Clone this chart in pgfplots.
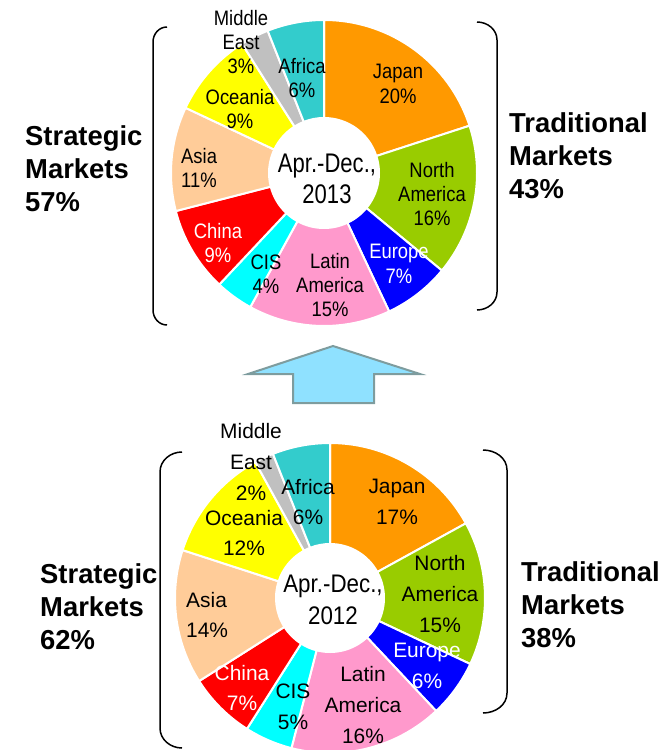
\documentclass[border=0pt]{standalone}
\usepackage{pgfplots}
\usepackage{pgfplotstable}
\pgfplotsset{compat=1.18}
\usepackage{fontspec}
\setmainfont{Liberation Sans}
\newfontfamily\topfont[FakeStretch=0.88]{Liberation Sans}
\newfontfamily\topcenter[FakeStretch=0.82]{Liberation Sans}
\newfontfamily\botcenter[FakeStretch=0.88]{Liberation Sans}

\definecolor{cJapan}{HTML}{FF9900}
\definecolor{cNA}{HTML}{99CC00}
\definecolor{cEurope}{HTML}{0000FF}
\definecolor{cLatAm}{HTML}{FF99CC}
\definecolor{cCIS}{HTML}{00FFFF}
\definecolor{cChina}{HTML}{FF0000}
\definecolor{cAsia}{HTML}{FFCC99}
\definecolor{cOceania}{HTML}{FFFF00}
\definecolor{cME}{HTML}{C0C0C0}
\definecolor{cAfrica}{HTML}{33CCCC}
\definecolor{arrowfill}{HTML}{8FE1FF}
\definecolor{arrowline}{HTML}{7E9C9E}

% shares in percent, clockwise from 12 o'clock
\pgfplotstableread{
region share col
Japan 20 cJapan
NorthAmerica 16 cNA
Europe 7 cEurope
LatinAmerica 15 cLatAm
CIS 4 cCIS
China 9 cChina
Asia 11 cAsia
Oceania 9 cOceania
MiddleEast 3 cME
Africa 6 cAfrica
}\dataThirteen

\pgfplotstableread{
region share col
Japan 17 cJapan
NorthAmerica 15 cNA
Europe 6 cEurope
LatinAmerica 16 cLatAm
CIS 5 cCIS
China 7 cChina
Asia 14 cAsia
Oceania 12 cOceania
MiddleEast 2 cME
Africa 6 cAfrica
}\dataTwelve

% #1 table, #2 cx, #3 cy, #4 outer radius, #5 inner radius
\newcommand\donut[5]{%
  \pgfplotsextra{%
    \def\angA{90}%
    \pgfplotstablegetrowsof{#1}%
    \pgfmathtruncatemacro\lastrow{\pgfplotsretval-1}%
    \pgfplotsforeachungrouped \i in {0,...,\lastrow}{%
      \pgfplotstablegetelem{\i}{share}\of{#1}\let\val\pgfplotsretval
      \pgfplotstablegetelem{\i}{col}\of{#1}\let\wcol\pgfplotsretval
      \pgfmathsetmacro\angB{\angA-3.6*\val}%
      \filldraw[fill=\wcol, draw=white, line width=2bp, line join=miter]
        ([shift={(\angA:#4bp)}]axis cs:#2,#3)
        arc[start angle=\angA, end angle=\angB, radius=#4bp]
        -- ([shift={(\angB:#5bp)}]axis cs:#2,#3)
        arc[start angle=\angB, end angle=\angA, radius=#5bp] -- cycle;
      \let\angA\angB
    }%
  }%
}

\begin{document}
\begin{tikzpicture}
\begin{axis}[
x=1bp, y=1bp,
xmin=0, xmax=669, ymin=0, ymax=750,
y dir=reverse,
hide axis,
clip=false
]
\coordinate (bbA) at (axis cs:0,750);
\coordinate (bbB) at (axis cs:669,0);

\donut{\dataThirteen}{324}{173}{153}{55}
\donut{\dataTwelve}{330}{598}{155}{54}

% brackets
\draw[line width=1.5bp] (axis cs:167,27) to[out=180,in=90] (axis cs:153,42)
  -- (axis cs:153,310) to[out=-90,in=180] (axis cs:167,325);
\draw[line width=1.5bp] (axis cs:477,22) to[out=0,in=90] (axis cs:497,40)
  -- (axis cs:497,292) to[out=-90,in=0] (axis cs:477,310);
\draw[line width=1.5bp] (axis cs:182,452) to[out=180,in=90] (axis cs:160,472)
  -- (axis cs:160,728) to[out=-90,in=180] (axis cs:182,748);
\draw[line width=1.5bp] (axis cs:483,450) to[out=0,in=90] (axis cs:507,470)
  -- (axis cs:507,693) to[out=-90,in=0] (axis cs:483,713);

% arrow
\filldraw[fill=arrowfill, draw=arrowline, line width=2bp]
  (axis cs:333,346) -- (axis cs:420,374) -- (axis cs:374,374) -- (axis cs:374,403)
  -- (axis cs:293,403) -- (axis cs:293,374) -- (axis cs:248,374) -- cycle;

% outer labels
\tikzset{big/.style={font=\bfseries\fontsize{27.5}{33}\selectfont, align=left, inner sep=0pt, anchor=west}}
\node[big] at (axis cs:25,169) {Strategic\\Markets\\57\%};
\node[big] at (axis cs:509,156) {Traditional\\Markets\\43\%};
\node[big] at (axis cs:40,607) {Strategic\\Markets\\62\%};
\node[big] at (axis cs:521,605) {Traditional\\Markets\\38\%};

% top donut labels
\tikzset{tl/.style={font=\topfont\fontsize{21}{24.5}\selectfont, align=center, inner sep=0pt}}
\node[tl] at (axis cs:398,84) {Japan\\20\%};
\node[tl] at (axis cs:432,194) {North\\America\\16\%};
\node[tl, white] at (axis cs:399,264) {Europe\\7\%};
\node[tl] at (axis cs:330,285) {Latin\\America\\15\%};
\node[tl] at (axis cs:266,274) {CIS\\4\%};
\node[tl, white] at (axis cs:218,243) {China\\9\%};
\node[tl, align=left, anchor=west] at (axis cs:181,168) {Asia\\11\%};
\node[tl] at (axis cs:240,109) {Oceania\\9\%};
\node[tl] at (axis cs:241,42) {Middle\\East\\3\%};
\node[tl] at (axis cs:302,78) {Africa\\6\%};
\node[font=\topcenter\fontsize{27}{31}\selectfont, align=center, inner sep=0pt]
  at (axis cs:327,179) {Apr.-Dec.,\\2013};

% bottom donut labels
\tikzset{bl/.style={font=\fontsize{21}{31}\selectfont, align=center, inner sep=0pt}}
\node[bl] at (axis cs:397,502) {Japan\\17\%};
\node[bl] at (axis cs:440,594) {North\\America\\15\%};
\node[bl, white] at (axis cs:427,666) {Europe\\6\%};
\node[bl] at (axis cs:363,705) {Latin\\America\\16\%};
\node[bl] at (axis cs:293,707) {CIS\\5\%};
\node[bl, white] at (axis cs:242,688) {China\\7\%};
\node[bl, align=left, anchor=west] at (axis cs:186,615) {Asia\\14\%};
\node[bl] at (axis cs:244,533) {Oceania\\12\%};
\node[bl] at (axis cs:251,462) {Middle\\East\\2\%};
\node[bl] at (axis cs:308,502) {Africa\\6\%};
\node[font=\botcenter\fontsize{25.5}{32}\selectfont, align=center, inner sep=0pt]
  at (axis cs:333,600) {Apr.-Dec.,\\2012};
\end{axis}
\pgfresetboundingbox
\path (bbA) rectangle (bbB);
\end{tikzpicture}
\end{document}
